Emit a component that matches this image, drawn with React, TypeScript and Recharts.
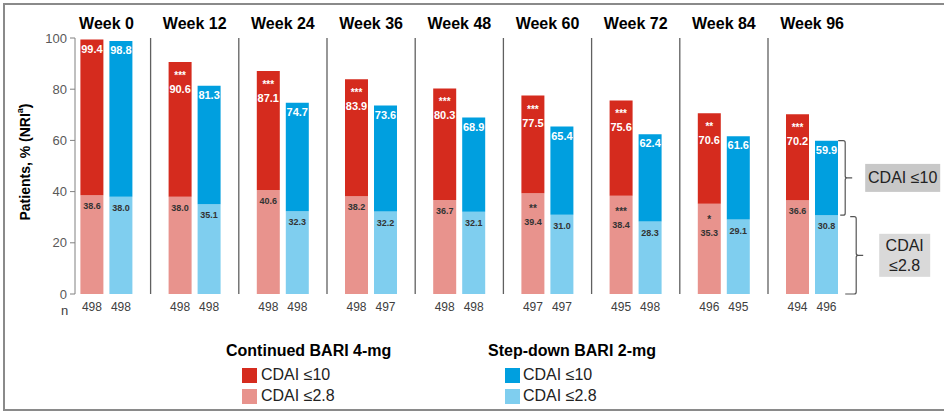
import React from 'react';
import { BarChart, Bar, XAxis, YAxis, ReferenceLine, ReferenceArea, LabelList } from 'recharts';

const weeks = ['Week 0', 'Week 12', 'Week 24', 'Week 36', 'Week 48', 'Week 60', 'Week 72', 'Week 84', 'Week 96'];
const cont10 = [99.4, 90.6, 87.1, 83.9, 80.3, 77.5, 75.6, 70.6, 70.2];
const cont28 = [38.6, 38.0, 40.6, 38.2, 36.7, 39.4, 38.4, 35.3, 36.6];
const step10 = [98.8, 81.3, 74.7, 73.6, 68.9, 65.4, 62.4, 61.6, 59.9];
const step28 = [38.0, 35.1, 32.3, 32.2, 32.1, 31.0, 28.3, 29.1, 30.8];
const cont10Stars = ['', '***', '***', '***', '***', '***', '***', '**', '***'];
const cont28Stars = ['', '', '', '', '', '**', '***', '*', ''];
const nCont = [498, 498, 498, 498, 498, 497, 495, 496, 494];
const nStep = [498, 498, 498, 497, 498, 497, 498, 495, 496];
const yTicks = [0, 20, 40, 60, 80, 100];

const DARK_RED = '#D52B1E';
const LIGHT_RED = '#E8938D';
const BLUE = '#009FDF';
const LIGHT_BLUE = '#7FCEEF';
const FONT = '"Liberation Sans", Arial, sans-serif';
const NARROW = '"Liberation Sans Narrow", "Arial Narrow", "Liberation Sans", Arial, sans-serif';

const data = weeks.map((w, i) => ({
  week: w,
  cont28: cont28[i],
  cont10Rest: +(cont10[i] - cont28[i]).toFixed(1),
  cont10: cont10[i],
  step28: step28[i],
  step10Rest: +(step10[i] - step28[i]).toFixed(1),
  step10: step10[i],
  nCont: nCont[i],
  nStep: nStep[i],
}));

const fmt = (v: any) => (typeof v === 'number' ? v.toFixed(1) : String(v));

const darkLabel = (stars: string[] | null) => (props: any) => {
  const { x, y, width, value, index } = props;
  const cx = x + width / 2;
  const s = stars ? stars[index] : '';
  return (
    <g>
      {s ? (
        <text x={cx} y={y + 17} textAnchor="middle" fill="#fff" fontSize={10} fontWeight={700} fontFamily={FONT}>
          {s}
        </text>
      ) : null}
      <text x={cx} y={y + (s ? 31 : 13)} textAnchor="middle" fill="#fff" fontSize={11} fontWeight={700} fontFamily={FONT}>
        {fmt(value)}
      </text>
    </g>
  );
};

const lightLabel = (stars: string[] | null) => (props: any) => {
  const { x, y, width, value, index } = props;
  const cx = x + width / 2;
  const s = stars ? stars[index] : '';
  return (
    <g>
      {s ? (
        <text x={cx} y={y + 19} textAnchor="middle" fill="#333" fontSize={10} fontWeight={700} fontFamily={FONT}>
          {s}
        </text>
      ) : null}
      <text x={cx} y={y + (s ? 32 : 14)} textAnchor="middle" fill="#333" fontSize={9} fontWeight={700} fontFamily={FONT}>
        {fmt(value)}
      </text>
    </g>
  );
};

const nLabel = (props: any) => {
  const { x, y, width, height, value } = props;
  return (
    <text x={x + width / 2} y={y + height + 17} textAnchor="middle" fill="#404040" fontSize={12} fontFamily={NARROW}>
      {value}
    </text>
  );
};

const UpperBrace = (props: any) => {
  const { x, y, width, height } = props;
  const xr = x + width - 11;
  const mid = y + height / 2;
  const bx = x + width + 9;
  return (
    <g>
      <path
        d={`M ${xr - 7} ${y} L ${xr - 2} ${y} Q ${xr} ${y} ${xr} ${y + 2} L ${xr} ${mid - 2} Q ${xr} ${mid} ${xr + 2} ${mid} L ${xr + 7} ${mid} M ${xr + 2} ${mid} Q ${xr} ${mid} ${xr} ${mid + 2} L ${xr} ${y + height - 2} Q ${xr} ${y + height} ${xr - 2} ${y + height} L ${xr - 5} ${y + height}`}
        fill="none"
        stroke="#555"
        strokeWidth={1.2}
      />
      <rect x={bx} y={mid - 14} width={75} height={28} fill="#C8C8C8" />
      <text x={bx + 37.5} y={mid + 5.5} textAnchor="middle" fontSize={16} fill="#222" fontFamily={FONT}>
        CDAI ≤10
      </text>
    </g>
  );
};

const LowerBrace = (props: any) => {
  const { x, y, width, height } = props;
  const xr = x + width;
  const top = y + 1.5;
  const bot = y + height;
  const mid = (top + bot) / 2;
  const bx = x + width + 23;
  return (
    <g>
      <path
        d={`M ${xr - 6} ${top} L ${xr - 2} ${top} Q ${xr} ${top} ${xr} ${top + 2} L ${xr} ${mid - 2} Q ${xr} ${mid} ${xr + 2} ${mid} L ${xr + 7} ${mid} M ${xr + 2} ${mid} Q ${xr} ${mid} ${xr} ${mid + 2} L ${xr} ${bot - 2} Q ${xr} ${bot} ${xr - 2} ${bot} L ${xr - 11} ${bot}`}
        fill="none"
        stroke="#555"
        strokeWidth={1.2}
      />
      <rect x={bx} y={mid - 21.5} width={51} height={43} fill="#D9D9D9" />
      <text x={bx + 25.5} y={mid - 4} textAnchor="middle" fontSize={16} fill="#222" fontFamily={FONT}>
        CDAI
      </text>
      <text x={bx + 25.5} y={mid + 16} textAnchor="middle" fontSize={16} fill="#222" fontFamily={FONT}>
        ≤2.8
      </text>
    </g>
  );
};

const YLabel = (props: any) => {
  const vb = props.viewBox || { x: 35, y: 38, width: 40, height: 256 };
  const cx = vb.x - 10;
  const cy = vb.y + vb.height / 2 - 4;
  return (
    <text
      x={cx}
      y={cy}
      transform={`rotate(-90 ${cx} ${cy})`}
      textAnchor="middle"
      dominantBaseline="central"
      fontSize={14}
      fontWeight={700}
      fill="#000"
      fontFamily={FONT}
    >
      Patients, % (NRI
      <tspan fontSize={9} dy={-5}>a</tspan>
      <tspan dy={5}>)</tspan>
    </text>
  );
};

const swatch = (left: number, top: number, color: string) => (
  <div style={{ position: 'absolute', left, top, width: 15, height: 15, background: color }} />
);
const legText = (left: number, top: number, text: string, bold = false) => (
  <div
    style={{
      position: 'absolute',
      left,
      top,
      fontSize: 16,
      lineHeight: '20px',
      fontWeight: bold ? 700 : 400,
      color: bold ? '#000' : '#222',
      whiteSpace: 'nowrap',
      fontFamily: FONT,
    }}
  >
    {text}
  </div>
);

export default function App() {
  return (
    <div
      style={{
        position: 'absolute',
        left: 0,
        top: 0,
        width: 944,
        height: 414,
        overflow: 'hidden',
        background: '#fff',
        fontFamily: FONT,
      }}
    >
      <div
        style={{
          position: 'absolute',
          left: 3,
          top: 3,
          width: 960,
          height: 408,
          border: '2px solid #8a8a8a',
          boxSizing: 'border-box',
        }}
      />
      <div style={{ position: 'absolute', left: 0, top: 0 }}>
        <BarChart
          width={944}
          height={414}
          data={data}
          margin={{ top: 8, right: 98, bottom: 120, left: 35 }}
          barSize={23}
          barGap={6}
        >
          <XAxis
            xAxisId="t"
            dataKey="week"
            orientation="top"
            height={30}
            padding={{ left: -12.6, right: -10.2 }}
            axisLine={false}
            tickLine={false}
            tickSize={0}
            tickMargin={9}
            tick={{ fontSize: 16, fontWeight: 700, fill: '#000', fontFamily: FONT }}
            interval={0}
          />
          <XAxis
            xAxisId="b"
            dataKey="week"
            height={0}
            padding={{ left: -12.6, right: -10.2 }}
            tick={false}
            tickLine={false}
            axisLine={{ stroke: '#595959', strokeWidth: 1.3 }}
          />
          <YAxis
            domain={[0, 100]}
            ticks={yTicks}
            width={40}
            tickSize={5}
            tickMargin={3}
            axisLine={{ stroke: '#808080' }}
            tickLine={{ stroke: '#808080' }}
            tick={{ fontSize: 13, fill: '#595959', fontFamily: FONT }}
            label={<YLabel />}
          />
          {weeks.slice(1).map((w) => (
            <ReferenceLine key={w} xAxisId="b" x={w} position="start" stroke="#606060" strokeWidth={1.3} />
          ))}
          <Bar xAxisId="b" dataKey="cont28" stackId="c" fill={LIGHT_RED} isAnimationActive={false}>
            <LabelList dataKey="cont28" content={lightLabel(cont28Stars)} />
            <LabelList dataKey="nCont" content={nLabel} />
          </Bar>
          <Bar xAxisId="b" dataKey="cont10Rest" stackId="c" fill={DARK_RED} isAnimationActive={false}>
            <LabelList dataKey="cont10" content={darkLabel(cont10Stars)} />
          </Bar>
          <Bar xAxisId="b" dataKey="step28" stackId="s" fill={LIGHT_BLUE} isAnimationActive={false}>
            <LabelList dataKey="step28" content={lightLabel(null)} />
            <LabelList dataKey="nStep" content={nLabel} />
          </Bar>
          <Bar xAxisId="b" dataKey="step10Rest" stackId="s" fill={BLUE} isAnimationActive={false}>
            <LabelList dataKey="step10" content={darkLabel(null)} />
          </Bar>
          <ReferenceArea
            xAxisId="b"
            y1={step28[step28.length - 1]}
            y2={step10[step10.length - 1]}
            shape={<UpperBrace />}
            ifOverflow="visible"
          />
          <ReferenceArea
            xAxisId="b"
            y1={0}
            y2={step28[step28.length - 1]}
            shape={<LowerBrace />}
            ifOverflow="visible"
          />
        </BarChart>
      </div>
      <div style={{ position: 'absolute', left: 61, top: 302, fontSize: 13, lineHeight: '18px', color: '#404040', fontFamily: NARROW }}>
        n
      </div>
      {legText(226, 341, 'Continued BARI 4-mg', true)}
      {swatch(242, 368, DARK_RED)}
      {legText(261, 365, 'CDAI ≤10')}
      {swatch(242, 389, LIGHT_RED)}
      {legText(261, 386, 'CDAI ≤2.8')}
      {legText(488, 341, 'Step-down BARI 2-mg', true)}
      {swatch(505, 368, BLUE)}
      {legText(523, 365, 'CDAI ≤10')}
      {swatch(505, 389, LIGHT_BLUE)}
      {legText(523, 386, 'CDAI ≤2.8')}
    </div>
  );
}
